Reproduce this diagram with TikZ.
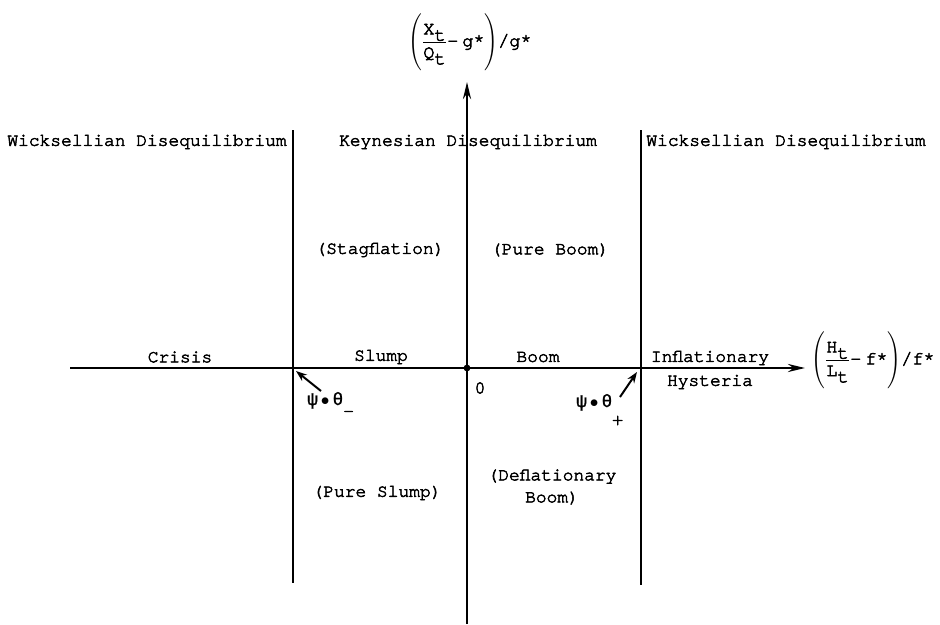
\documentclass[tikz,border=0pt]{standalone}
\usepackage{amsmath}
\usepackage{graphicx}
\usepackage{fontspec}
\setmainfont{TeX Gyre Cursor}[FakeBold=3]
\newfontfamily\grk{Liberation Mono}[FakeBold=1.5]
\usetikzlibrary{arrows.meta}
\newcommand\myLparen{\vcenter{\hbox{\scalebox{1}[1.1]{$\Bigg($}}}}
\newcommand\myRparen{\vcenter{\hbox{\scalebox{1}[1.1]{$\Bigg)$}}}}
\begin{document}
\begin{tikzpicture}[x=1pt,y=-1pt,
  lbl/.style={font=\fontsize{17.9}{22}\selectfont, inner sep=0pt},
  mlbl/.style={font=\fontsize{18.5}{22}\selectfont, inner sep=0pt},
  axis/.style={line width=2.6pt},
  divider/.style={line width=2.1pt},
  axtip/.style={-{Stealth[length=17pt,width=8pt]}},
  ptr/.style={line width=2pt,-{Stealth[length=11pt,width=8pt]}}]
\useasboundingbox (0,0) rectangle (940,624);
% axes
\coordinate (O) at (467,368);
\coordinate (xl) at (70,368);
\coordinate (xr) at (805,368);
\coordinate (yt) at (467,82);
\coordinate (yb) at (467,624);
\draw[axis,axtip] (xl) -- (xr);
\draw[axis,axtip] (yb) -- (yt);
\fill (O) circle (3.4pt);
% dividers
\coordinate (Lt) at (293,130);
\coordinate (Lb) at (293,583);
\coordinate (Rt) at (641,130);
\coordinate (Rb) at (641,585);
\draw[divider] (Lt) -- (Lb);
\draw[divider] (Rt) -- (Rb);
% top labels
\node[lbl] (wl) at (147,142) {Wicksellian Disequilibrium};
\node[lbl] (kd) at (468,142) {Keynesian Disequilibrium};
\node[lbl] (wr) at (786,142) {Wicksellian Disequilibrium};
% quadrant labels
\node[lbl] (stag) at (380,250) {(Stagflation)};
\node[lbl] (pboom) at (550,250) {(Pure Boom)};
\node[lbl] (pslump) at (377,493) {(Pure Slump)};
\node[lbl,align=center] (defl) at (552,487) {(Deflationary\\Boom)};
% axis segment labels
\node[lbl] (crisis) at (180,357) {Crisis};
\node[lbl] (slump) at (381,357) {Slump};
\node[lbl] (boom) at (538,357) {Boom};
\node[lbl] (infl) at (710,358) {Inflationary};
\node[lbl] (hyst) at (710,382) {Hysteria};
\node[lbl] (zero) at (480,388) {0};
% psi theta labels
\node[lbl,anchor=base west] (psim) at (307,405) {{\grk ψ}\,$\bullet$\,{\grk θ}\raisebox{-11.5pt}{-}};
\node[lbl,anchor=base west] (psip) at (576,407) {{\grk ψ}\,$\bullet$\,{\grk θ}\raisebox{-18pt}{+}};
\coordinate (aLs) at (321,391);
\coordinate (aLe) at (296,371);
\coordinate (aRs) at (620,397);
\coordinate (aRe) at (637,372);
\draw[ptr] (aLs) -- (aLe);
\draw[ptr] (aRs) -- (aRe);
% axis titles
\node[mlbl] (ylab) at (470,42) {$\myLparen\frac{\mbox{X}_{\mbox{t}}\rule[-6pt]{0pt}{0pt}}{\rule{0pt}{15pt}\mbox{Q}_{\mbox{t}}}\mbox{-\kern4pt g*}\myRparen\mbox{/g*}$};
\node[mlbl] (xlab) at (873,360) {$\myLparen\frac{\mbox{H}_{\mbox{t}}\rule[-6pt]{0pt}{0pt}}{\rule{0pt}{15pt}\mbox{L}_{\mbox{t}}}\mbox{-\kern4pt f*}\myRparen\mbox{/f*}$};
\end{tikzpicture}
\end{document}
